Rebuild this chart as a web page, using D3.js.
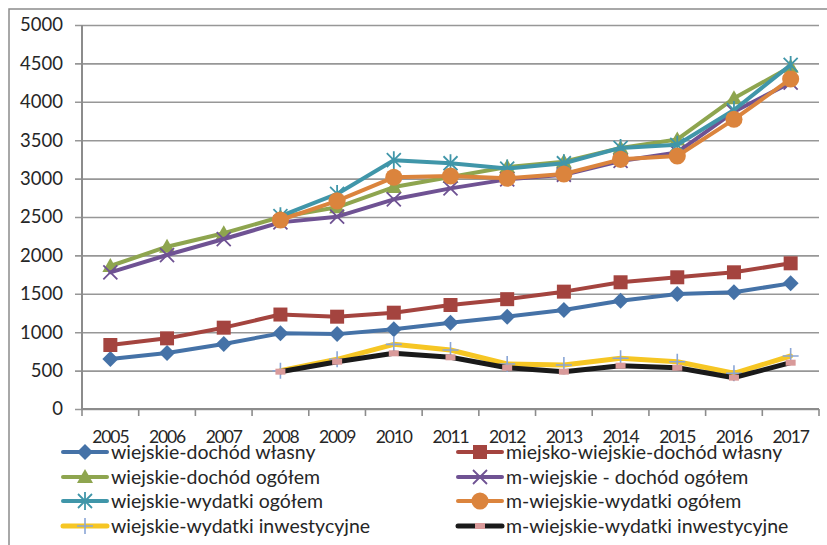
<!DOCTYPE html>
<html>
<head>
<meta charset="utf-8">
<script src="https://cdn.jsdelivr.net/npm/d3@7"></script>
<style>
  body { margin: 0; background: #fff; }
  text { font-family: Lato, "Open Sans", sans-serif; fill: #262626; }
</style>
</head>
<body>
<svg width="827" height="545"></svg>
<script>
var years = ['2005','2006','2007','2008','2009','2010','2011','2012','2013','2014','2015','2016','2017'];
var yTicks = [0, 500, 1000, 1500, 2000, 2500, 3000, 3500, 4000, 4500, 5000];

var wiejDochodWlasny  = [651, 729, 846, 985, 975, 1037, 1124, 1202, 1289, 1410, 1497, 1519, 1636];
var mwiejDochodWlasny = [833, 920, 1059, 1230, 1202, 1254, 1354, 1430, 1528, 1650, 1715, 1780, 1897];
var wiejDochodOgolem  = [1862, 2113, 2288, 2500, 2626, 2890, 3020, 3150, 3220, 3400, 3510, 4045, 4457];
var mwiejDochodOgolem = [1780, 2005, 2213, 2430, 2504, 2730, 2873, 2990, 3050, 3230, 3340, 3870, 4250];
var wiejWydatkiOgolem = [null, null, null, 2510, 2800, 3240, 3200, 3130, 3200, 3400, 3440, 3893, 4480];
var mwiejWydatkiOgolem = [null, null, null, 2461, 2710, 3017, 3034, 3004, 3060, 3251, 3294, 3772, 4297];
var wiejInwest  = [null, null, null, 499, 647, 842, 768, 586, 573, 660, 616, 465, 690];
var mwiejInwest = [null, null, null, 486, 616, 725, 673, 538, 486, 564, 538, 408, 603];

var seriesNames = ['wiejskie-dochód własny', 'miejsko-wiejskie-dochód własny',
  'wiejskie-dochód ogółem', 'm-wiejskie - dochód ogółem',
  'wiejskie-wydatki ogółem', 'm-wiejskie-wydatki ogółem',
  'wiejskie-wydatki inwestycyjne', 'm-wiejskie-wydatki inwestycyjne'];

var series = [
  {name: seriesNames[0], values: wiejDochodWlasny, color: '#4572a7', marker: 'diamond', w: 4},
  {name: seriesNames[1], values: mwiejDochodWlasny, color: '#a4443f', marker: 'square', w: 4},
  {name: seriesNames[2], values: wiejDochodOgolem, color: '#8ea54f', marker: 'triangle', w: 4},
  {name: seriesNames[3], values: mwiejDochodOgolem, color: '#6f5293', marker: 'x', w: 4},
  {name: seriesNames[4], values: wiejWydatkiOgolem, color: '#4096a9', marker: 'star', w: 4},
  {name: seriesNames[5], values: mwiejWydatkiOgolem, color: '#db843d', marker: 'circle', w: 4},
  {name: seriesNames[6], values: wiejInwest, color: '#f6c624', marker: 'plus', w: 5},
  {name: seriesNames[7], values: mwiejInwest, color: '#1a1a1a', marker: 'dash', w: 5}
];

var svg = d3.select('svg');

//plot area
var margin = {top: 25, left: 82, right: 8, bottom: 136};
var width = 827, height = 545;
var innerWidth = width - margin.left - margin.right;
var innerHeight = height - margin.top - margin.bottom;

var xScale = d3.scaleBand().domain(years).range([0, innerWidth]);
var yScale = d3.scaleLinear().domain([0, 5000]).range([innerHeight, 0]);

//outer frame
svg.append('rect')
  .attr('x', 9).attr('y', 9).attr('width', 840).attr('height', 560)
  .attr('fill', 'none').attr('stroke', '#8c8c8c').attr('stroke-width', 1.5);

var g = svg.append('g').attr('transform', 'translate(' + margin.left + ',' + margin.top + ')');

//gridlines + y labels
var yAxis = d3.axisLeft(yScale).tickValues(yTicks).tickFormat(d3.format('d'))
  .tickSize(-innerWidth).tickPadding(12);
var gy = g.append('g').call(yAxis);
gy.select('.domain').remove();
gy.selectAll('.tick line').attr('x1', -7).attr('stroke', '#979797').attr('stroke-width', 1.6);
gy.selectAll('.tick text').style('font-size', '18.5px').attr('fill', '#262626').attr('x', -19);

//y axis line
g.append('line').attr('x1', 0).attr('x2', 0).attr('y1', 0).attr('y2', innerHeight)
  .attr('stroke', '#8c8c8c').attr('stroke-width', 2);

//x axis with ticks at band edges
var gx = g.append('g').attr('transform', 'translate(0,' + innerHeight + ')');
gx.append('line').attr('x1', 0).attr('x2', innerWidth).attr('stroke', '#8c8c8c').attr('stroke-width', 2);
gx.selectAll('.xt').data(years.concat(['end'])).enter().append('line')
  .attr('x1', (d, i) => i * xScale.step()).attr('x2', (d, i) => i * xScale.step())
  .attr('y1', 0).attr('y2', 7).attr('stroke', '#8c8c8c').attr('stroke-width', 1.6);
gx.selectAll('.xl').data(years).enter().append('text')
  .attr('x', d => xScale(d) + xScale.bandwidth() / 2).attr('y', 34)
  .attr('text-anchor', 'middle').style('font-size', '17.5px').style('letter-spacing', '-1.1px')
  .text(d => d);

//marker shapes
function markerPath(type) {
  switch (type) {
    case 'diamond': return 'M0,-8L8,0L0,8L-8,0Z';
    case 'square': return 'M-7,-7H7V7H-7Z';
    case 'triangle': return 'M0,-8L8,6H-8Z';
    case 'x': return 'M-7,-7L7,7M7,-7L-7,7';
    case 'star': return 'M-7,-7L7,7M7,-7L-7,7M0,-9V9';
    case 'circle': return d3.symbol(d3.symbolCircle, 230)();
    case 'plus': return 'M-8,0H8M0,-8V8';
    case 'dash': return 'M-5,-3H5V3H-5Z';
  }
}
function drawMarker(sel, s) {
  var p = sel.append('path').attr('d', markerPath(s.marker));
  if (s.marker === 'x' || s.marker === 'star') {
    p.attr('fill', 'none').attr('stroke', s.color).attr('stroke-width', 1.8);
  } else if (s.marker === 'plus') {
    p.attr('fill', 'none').attr('stroke', '#8aa6d6').attr('stroke-width', 1.6);
  } else if (s.marker === 'dash') {
    p.attr('fill', '#d99a9a');
  } else {
    p.attr('fill', s.color);
  }
}

var line = d3.line()
  .defined(d => d.v !== null)
  .x(d => xScale(d.year) + xScale.bandwidth() / 2)
  .y(d => yScale(d.v));

series.forEach(s => {
  var pts = years.map((y, i) => ({year: y, v: s.values[i]}));
  var sg = g.append('g');
  sg.append('path').datum(pts).attr('d', line)
    .attr('fill', 'none').attr('stroke', s.color).attr('stroke-width', s.w)
    .attr('stroke-linejoin', 'round').attr('stroke-linecap', 'round');
  sg.selectAll('.m').data(pts.filter(d => d.v !== null)).enter().append('g')
    .attr('transform', d => 'translate(' + (xScale(d.year) + xScale.bandwidth() / 2) + ',' + yScale(d.v) + ')')
    .each(function () { drawMarker(d3.select(this), s); });
});

//legend
var legendCols = [63, 458];
var legendRows = [452, 477, 501, 526];
series.forEach((s, i) => {
  var lx = legendCols[i % 2], ly = legendRows[Math.floor(i / 2)];
  var lg = svg.append('g').attr('transform', 'translate(' + lx + ',' + ly + ')');
  lg.append('line').attr('x1', 0).attr('x2', 44).attr('stroke', s.color)
    .attr('stroke-width', s.w).attr('stroke-linecap', 'round');
  drawMarker(lg.append('g').attr('transform', 'translate(22,0)'), s);
  lg.append('text').attr('x', 48).attr('dy', '0.35em').style('font-size', '19.5px').text(s.name);
});
</script>
</body>
</html>
